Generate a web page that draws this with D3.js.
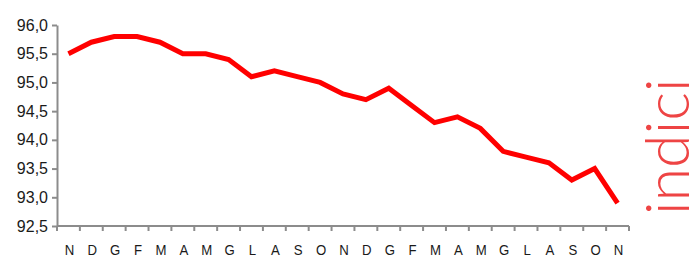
<!DOCTYPE html>
<html>
<head>
<meta charset="utf-8">
<script src="https://cdn.jsdelivr.net/npm/d3@7"></script>
<style>
  body { margin: 0; background: #fff; }
  svg { display: block; }
  .axis text { font-family: "Liberation Sans", Arial, sans-serif; fill: #1a1a1a; }
</style>
</head>
<body>
<figure id="line" style="margin:0"></figure>
<script>
// months (Nov -> Nov, two years)
const months = ["N","D","G","F","M","A","M","G","L","A","S","O","N","D","G","F","M","A","M","G","L","A","S","O","N"];
const values = [95.5, 95.7, 95.8, 95.8, 95.7, 95.5, 95.5, 95.4, 95.1, 95.2, 95.1, 95.0, 94.8, 94.7, 94.9, 94.6, 94.3, 94.4, 94.2, 93.8, 93.7, 93.6, 93.3, 93.5, 92.9];
const yTicks = [92.5, 93.0, 93.5, 94.0, 94.5, 95.0, 95.5, 96.0];
const sideLabel = "indici";

const width = 689, height = 257;
const margin = { top: 25, right: 60, bottom: 31, left: 57 };
const innerW = 572, innerH = height - margin.top - margin.bottom;

const svg = d3.select("figure#line")
  .append("svg")
  .attr("width", width)
  .attr("height", height);

const g = svg.append("g")
  .attr("transform", "translate(" + margin.left + "," + margin.top + ")");

const x = d3.scaleBand()
  .domain(d3.range(months.length))
  .range([0, innerW])
  .padding(0);

const y = d3.scaleLinear()
  .domain([92.5, 96.0])
  .range([innerH, 0]);

const fmt = v => d3.format(".1f")(v).replace(".", ",");

// y axis
const yAxis = g.append("g")
  .attr("class", "axis")
  .call(d3.axisLeft(y).tickValues(yTicks).tickFormat(fmt).tickSize(5).tickSizeOuter(0).tickPadding(4));
yAxis.selectAll("text").style("font-size", "16px");
yAxis.select(".domain").attr("stroke", "#8c8c8c").attr("stroke-width", 2);
yAxis.selectAll(".tick line").attr("stroke", "#8c8c8c").attr("stroke-width", 2);

// x axis: ticks at band boundaries, labels at centres
const xAxis = g.append("g")
  .attr("class", "axis")
  .attr("transform", "translate(0," + innerH + ")");
xAxis.append("path")
  .attr("d", "M0,0H" + innerW)
  .attr("stroke", "#8c8c8c")
  .attr("stroke-width", 2);
xAxis.selectAll(".xt")
  .data(d3.range(months.length + 1))
  .enter()
  .append("line")
  .attr("class", "xt")
  .attr("x1", i => i < months.length ? x(i) : innerW)
  .attr("x2", i => i < months.length ? x(i) : innerW)
  .attr("y1", 0)
  .attr("y2", 5)
  .attr("stroke", "#8c8c8c")
  .attr("stroke-width", 2);
xAxis.selectAll(".xl")
  .data(months)
  .enter()
  .append("text")
  .attr("class", "xl")
  .attr("transform", (d, i) => "translate(" + (x(i) + x.bandwidth() / 2 + 1) + ",29) scale(0.88,1)")
  .attr("text-anchor", "middle")
  .style("font-size", "15px")
  .text(d => d);

// the series
const line = d3.line()
  .x((d, i) => x(i) + x.bandwidth() / 2)
  .y(d => y(d));

g.append("path")
  .datum(values)
  .attr("fill", "none")
  .attr("stroke", "#ff0000")
  .attr("stroke-width", 5)
  .attr("stroke-linejoin", "miter")
  .attr("d", line);

// rotated side label
svg.append("text")
  .attr("transform", "translate(689,215) rotate(-90)")
  .attr("font-family", "Lato, 'Open Sans', sans-serif")
  .attr("font-weight", 300)
  .attr("font-size", "61px")
  .attr("fill", "#ee4444")
  .text(sideLabel);
</script>
</body>
</html>
